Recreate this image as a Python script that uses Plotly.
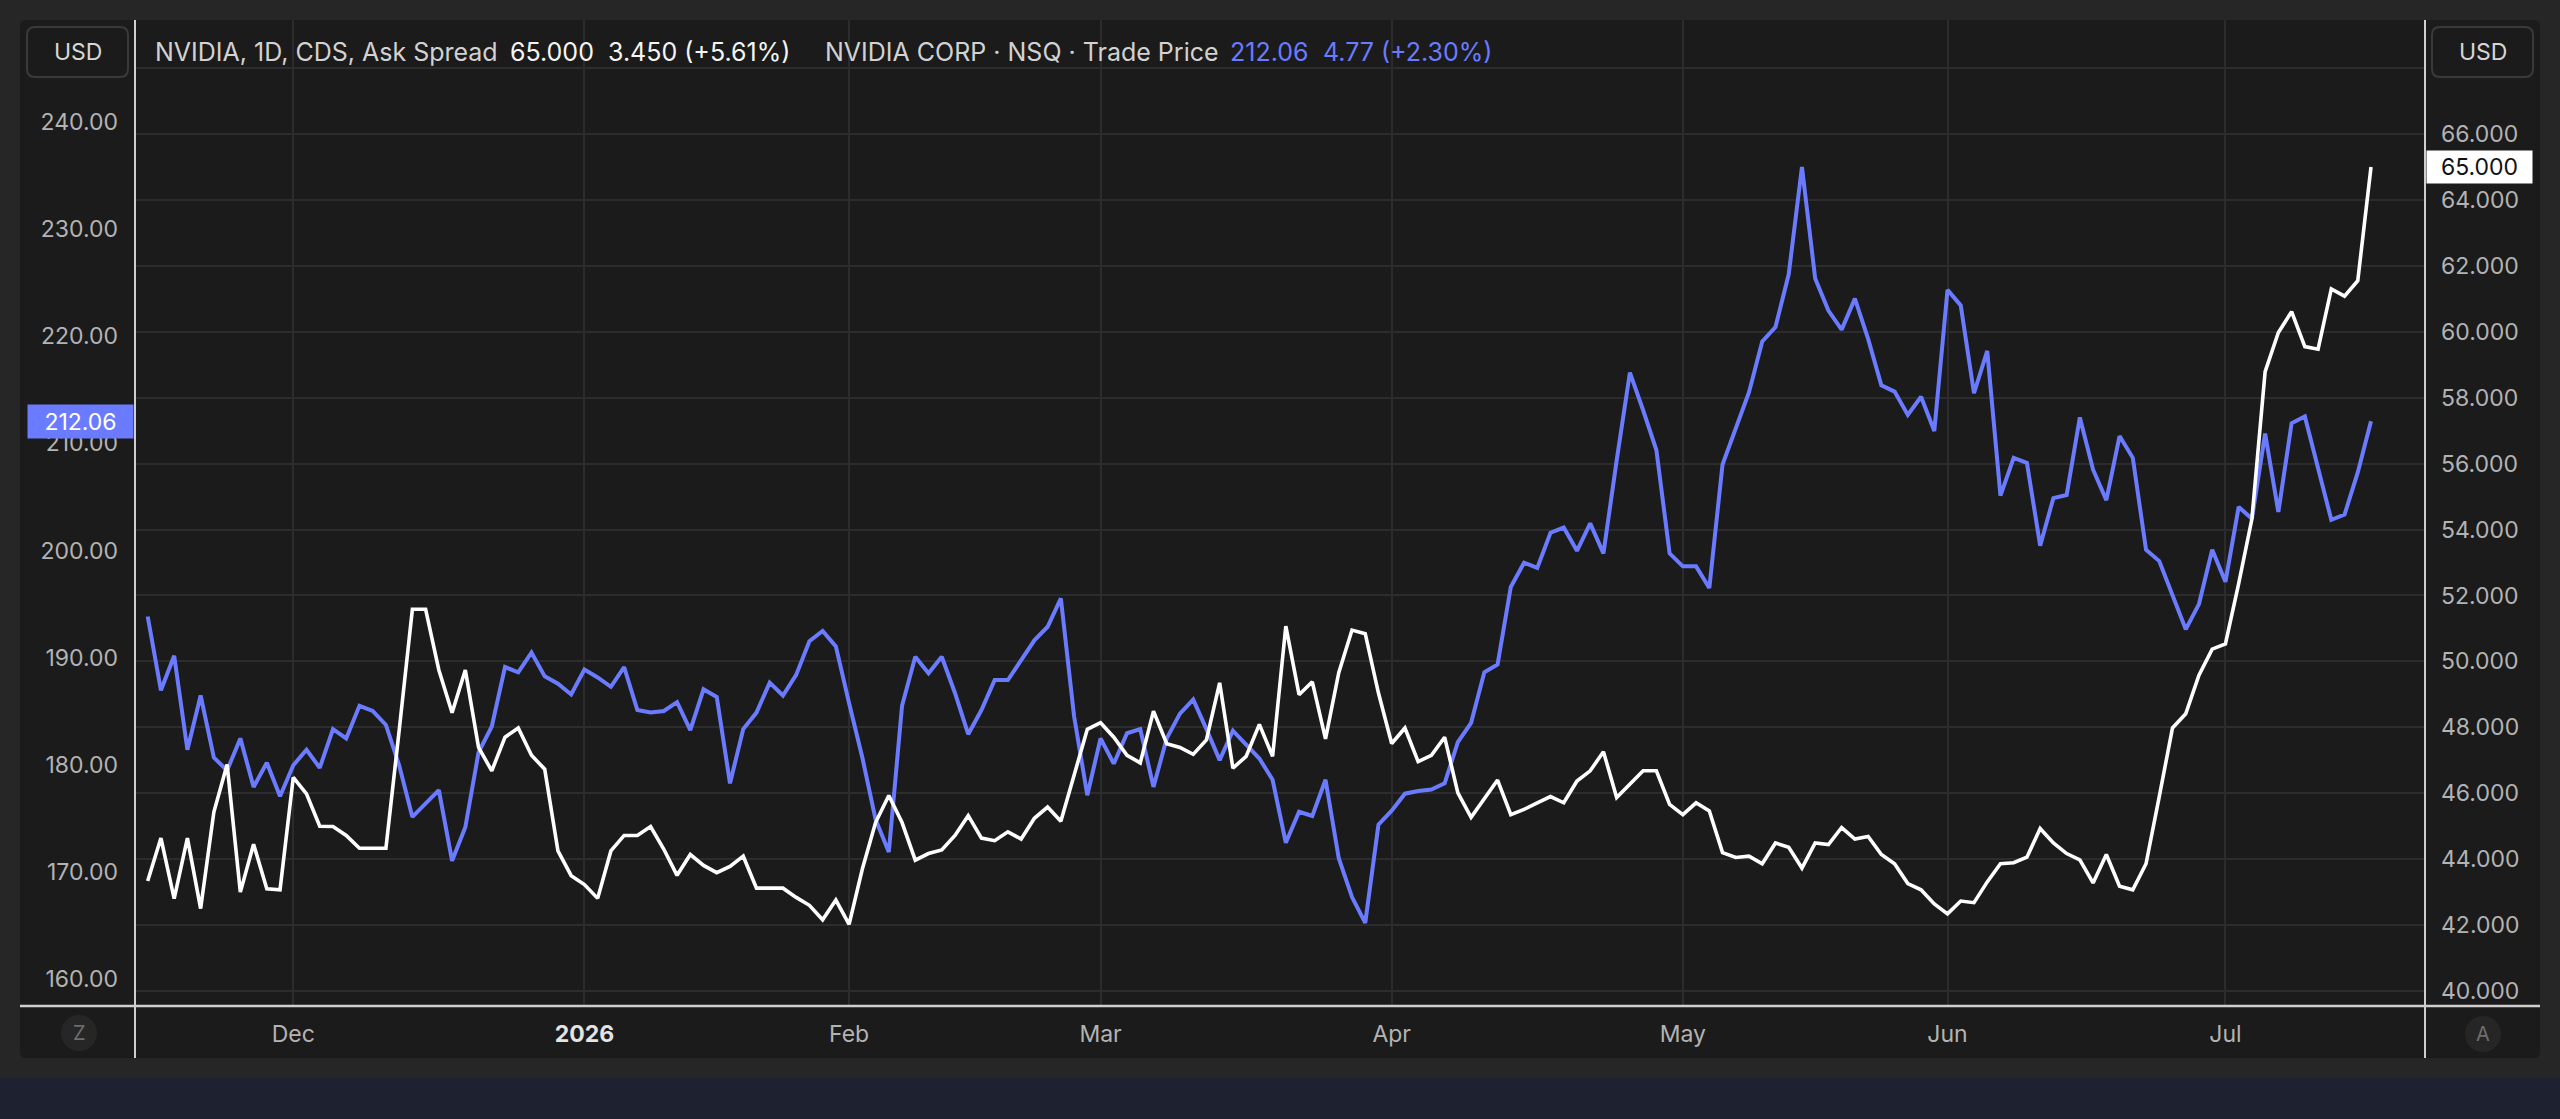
import pandas as pd
import plotly.graph_objects as go

# trading days shown on the chart (US market holidays skipped, Good Friday kept)
holidays = ['2025-11-27', '2025-12-25', '2026-01-01', '2026-01-19',
            '2026-02-16', '2026-05-25', '2026-06-19', '2026-07-03']
dates = pd.bdate_range('2025-11-13', '2026-07-17', freq='C',
                       holidays=holidays).strftime('%Y-%m-%d').tolist()

# NVIDIA CDS ask spread (right scale, white)
cds_spread = [
    43.34, 44.64, 42.80, 44.64, 42.50, 45.43, 46.87, 43.00, 44.45, 43.10,
    43.07, 46.48, 45.98, 45.00, 44.99, 44.72, 44.33, 44.33, 44.33, 47.90,
    51.58, 51.58, 49.74, 48.44, 49.74, 47.39, 46.68, 47.70, 47.98, 47.15,
    46.73, 44.25, 43.50, 43.23, 42.81, 44.25, 44.72, 44.72, 44.99, 44.30,
    43.51, 44.14, 43.81, 43.59, 43.78, 44.09, 43.12, 43.12, 43.12, 42.84,
    42.60, 42.16, 42.76, 42.02, 43.70, 45.11, 45.93, 45.11, 43.97, 44.17,
    44.28, 44.72, 45.32, 44.64, 44.56, 44.83, 44.61, 45.24, 45.58, 45.15,
    46.53, 47.94, 48.14, 47.70, 47.15, 46.92, 48.49, 47.50, 47.39, 47.18,
    47.62, 49.35, 46.76, 47.12, 48.09, 47.12, 51.07, 48.99, 49.38, 47.65,
    49.66, 50.95, 50.84, 49.04, 47.51, 47.98, 46.96, 47.15, 47.70, 46.01,
    45.27, 45.82, 46.40, 45.35, 45.51, 45.71, 45.90, 45.71, 46.37, 46.68,
    47.26, 45.87, 46.29, 46.68, 46.68, 45.66, 45.35, 45.71, 45.46, 44.20,
    44.05, 44.09, 43.86, 44.49, 44.36, 43.73, 44.49, 44.44, 44.96, 44.61,
    44.69, 44.14, 43.86, 43.26, 43.07, 42.64, 42.34, 42.73, 42.68, 43.31,
    43.86, 43.89, 44.06, 44.93, 44.49, 44.17, 43.98, 43.28, 44.14, 43.18,
    43.07, 43.86, 45.90, 47.98, 48.41, 49.58, 50.37, 50.53, 52.36, 54.32,
    58.79, 59.98, 60.61, 59.55, 59.47, 61.30, 61.08, 61.55, 65.00,
]

# NVIDIA trade price (left scale, blue)
trade_price = [
    193.84, 186.95, 190.18, 181.40, 186.46, 180.67, 179.47, 182.46, 177.93, 180.19,
    177.06, 179.95, 181.40, 179.71, 183.33, 182.46, 185.50, 185.02, 183.71, 179.95,
    175.13, 176.33, 177.64, 171.03, 174.16, 181.16, 183.57, 189.12, 188.63, 190.47,
    188.25, 187.57, 186.56, 188.88, 188.15, 187.28, 189.12, 185.11, 184.87, 185.02,
    185.84, 183.23, 187.04, 186.32, 178.26, 183.33, 184.87, 187.67, 186.46, 188.39,
    191.53, 192.49, 191.05, 185.74, 180.67, 174.89, 171.85, 185.50, 190.08, 188.54,
    190.08, 186.70, 182.85, 185.11, 187.91, 187.91, 189.69, 191.62, 192.88, 195.53,
    184.53, 177.15, 182.46, 180.10, 182.94, 183.33, 177.93, 182.46, 184.77, 186.08,
    183.33, 180.43, 183.18, 181.88, 180.58, 178.60, 172.72, 175.61, 175.22, 178.60,
    171.27, 167.65, 165.24, 174.40, 175.71, 177.30, 177.54, 177.68, 178.26, 182.12,
    183.91, 188.63, 189.36, 196.59, 198.86, 198.38, 201.66, 202.14, 199.97, 202.53,
    199.73, 208.41, 216.61, 213.09, 209.38, 199.73, 198.52, 198.52, 196.50, 208.03,
    211.30, 214.78, 219.51, 220.86, 225.78, 235.81, 225.39, 222.40, 220.62, 223.51,
    219.75, 215.41, 214.83, 212.66, 214.35, 211.16, 224.33, 222.88, 214.68, 218.64,
    205.13, 208.65, 208.17, 200.45, 204.89, 205.18, 212.42, 207.54, 204.70, 210.68,
    208.65, 200.07, 199.01, 195.87, 192.64, 195.00, 200.07, 197.08, 204.07, 202.96,
    210.92, 203.59, 211.88, 212.51, 207.54, 202.86, 203.35, 207.29, 212.06,
]

month_ticks = ['2025-12-01', '2026-01-02', '2026-02-02', '2026-03-02',
               '2026-04-01', '2026-05-01', '2026-06-01', '2026-07-01']
month_labels = ['Dec', '<span style="color:#e4e4e4"><b>2026</b></span>', 'Feb', 'Mar',
                'Apr', 'May', 'Jun', 'Jul']

price_ticks = [160, 170, 180, 190, 200, 210, 220, 230, 240]
spread_ticks = [40, 42, 44, 46, 48, 50, 52, 54, 56, 58, 60, 62, 64, 66]

# colours
OUTER = '#262626'
PANEL = '#1b1b1b'
GRID = '#2c2c2c'
EDGE = '#cfcfcf'
BLUE = '#6a7bff'
TICK = '#b3b3b3'
FONT = 'Inter'

# pixel layout of the page
W, H = 2560, 1119
L, R, T, B = 135, 2425, 20, 1006


def px(x):
    return (x - L) / (R - L)


def py(y):
    return (B - y) / (B - T)


def rounded_rect(x0, y0, x1, y1, r):
    pts = [
        ('M', x0 + r, y0), ('L', x1 - r, y0), ('Q', x1, y0), (None, x1, y0 + r),
        ('L', x1, y1 - r), ('Q', x1, y1), (None, x1 - r, y1),
        ('L', x0 + r, y1), ('Q', x0, y1), (None, x0, y1 - r),
        ('L', x0, y0 + r), ('Q', x0, y0), (None, x0 + r, y0),
    ]
    out = ''
    for cmd, x, y in pts:
        out += (cmd + ' ' if cmd else ' ') + f'{px(x):.5f},{py(y):.5f} '
    return out + 'Z'


fig = go.Figure()

fig.add_trace(go.Scatter(
    x=dates, y=trade_price, mode='lines', yaxis='y',
    line=dict(color=BLUE, width=4), hoverinfo='skip'
))
fig.add_trace(go.Scatter(
    x=dates, y=cds_spread, mode='lines', yaxis='y2',
    line=dict(color='#ffffff', width=3.6), hoverinfo='skip'
))

shapes = [
    # chart panel
    dict(type='path', xref='paper', yref='paper', layer='below',
         path=rounded_rect(20, 20, 2540, 1058, 6), fillcolor=PANEL, line=dict(width=0)),
    # bottom strip
    dict(type='rect', xref='paper', yref='paper', layer='below',
         x0=px(0), x1=px(W), y0=py(1078), y1=py(H), fillcolor='#1e2130', line=dict(width=0)),
    # top gridline under the header
    dict(type='line', xref='paper', yref='y2', x0=0, x1=1, y0=68, y1=68,
         line=dict(color=GRID, width=2), layer='below'),
    # scale separators
    dict(type='line', xref='paper', yref='paper', x0=px(L), x1=px(L), y0=py(20), y1=py(1058),
         line=dict(color=EDGE, width=2)),
    dict(type='line', xref='paper', yref='paper', x0=px(R), x1=px(R), y0=py(20), y1=py(1058),
         line=dict(color=EDGE, width=2)),
    dict(type='line', xref='paper', yref='paper', x0=px(20), x1=px(2540), y0=py(B), y1=py(B),
         line=dict(color=EDGE, width=2.5)),
    # currency boxes
    dict(type='path', xref='paper', yref='paper', path=rounded_rect(27, 27, 128, 77, 8),
         fillcolor=PANEL, line=dict(color='#3a3a3a', width=2)),
    dict(type='path', xref='paper', yref='paper', path=rounded_rect(2432, 27, 2533, 77, 8),
         fillcolor=PANEL, line=dict(color='#3a3a3a', width=2)),
    # Z / A buttons
    dict(type='circle', xref='paper', yref='paper', x0=px(61), x1=px(97), y0=py(1051), y1=py(1015),
         fillcolor='#262626', line=dict(width=0)),
    dict(type='circle', xref='paper', yref='paper', x0=px(2465), x1=px(2501), y0=py(1052), y1=py(1016),
         fillcolor='#262626', line=dict(width=0)),
]

# header legend values computed from the series
s_last, s_prev = cds_spread[-1], cds_spread[-2]
p_last, p_prev = trade_price[-1], trade_price[-2]
s_chg = s_last - s_prev
p_chg = p_last - p_prev

header = [
    (153, 'NVIDIA, 1D, CDS, Ask Spread', '#d2d2d2'),
    (508, f'{s_last:.3f}', '#f5f5f5'),
    (606, f'{s_chg:.3f} ({s_chg / s_prev * 100:+.2f}%)', '#f5f5f5'),
    (823, 'NVIDIA CORP · NSQ · Trade Price', '#d2d2d2'),
    (1228, f'{p_last:.2f}', BLUE),
    (1321, f'{p_chg:.2f} ({p_chg / p_prev * 100:+.2f}%)', BLUE),
]

annotations = []
for hx, txt, col in header:
    annotations.append(dict(
        xref='paper', yref='paper', x=px(hx), y=py(52), xanchor='left', yanchor='middle',
        text=txt, showarrow=False, font=dict(family=FONT, size=25, color=col)
    ))

for cx, cy, txt, col, size in [(77.5, 52, 'USD', '#d6d6d6', 23), (2482.5, 52, 'USD', '#d6d6d6', 23),
                                (79, 1033, 'Z', '#6e6e6e', 20), (2483, 1034, 'A', '#6e6e6e', 20)]:
    annotations.append(dict(
        xref='paper', yref='paper', x=px(cx), y=py(cy), xanchor='center', yanchor='middle',
        text=txt, showarrow=False, font=dict(family=FONT, size=size, color=col)
    ))

# last value labels on both scales
annotations.append(dict(
    xref='paper', yref='y', x=px(L - 1), y=p_last, xanchor='right', yanchor='middle',
    text=f'{p_last:.2f}', showarrow=False, bgcolor=BLUE, width=101, height=29, borderpad=2,
    font=dict(family=FONT, size=23, color='#ffffff')
))
annotations.append(dict(
    xref='paper', yref='y2', x=px(R + 1), y=s_last, xanchor='left', yanchor='middle',
    text=f'{s_last:.3f}', showarrow=False, bgcolor='#ffffff', width=101, height=28, borderpad=2,
    font=dict(family=FONT, size=23, color='#111111')
))

fig.update_layout(
    width=W, height=H,
    margin=dict(l=L, r=W - R, t=T, b=H - B),
    paper_bgcolor=OUTER,
    plot_bgcolor='rgba(0,0,0,0)',
    showlegend=False,
    shapes=shapes,
    annotations=annotations,
    xaxis=dict(
        type='category', range=[-0.96, 172.08],
        tickmode='array', tickvals=month_ticks, ticktext=month_labels,
        showgrid=True, gridcolor=GRID, gridwidth=2, ticks='', showline=False, zeroline=False,
        tickfont=dict(family=FONT, size=23, color=TICK), ticklabelstandoff=12,
    ),
    yaxis=dict(
        range=[157.48, 249.52], tickmode='array', tickvals=price_ticks, tickformat='.2f',
        showgrid=False, zeroline=False, ticks='', side='left',
        tickfont=dict(family=FONT, size=23, color=TICK), ticklabelstandoff=16,
    ),
    yaxis2=dict(
        range=[39.545, 69.459], overlaying='y', side='right',
        tickmode='array', tickvals=spread_ticks, tickformat='.3f',
        showgrid=True, gridcolor=GRID, gridwidth=2, zeroline=False, ticks='',
        tickfont=dict(family=FONT, size=23, color=TICK), ticklabelstandoff=15,
    ),
)

fig.write_html('out.html', config={'displayModeBar': False})

# drop the browser's default page margin so the figure fills the window
with open('out.html', encoding='utf-8') as f:
    page = f.read()
page = page.replace('<body>', '<body style="margin:0;overflow:hidden">', 1)
with open('out.html', 'w', encoding='utf-8') as f:
    f.write(page)
